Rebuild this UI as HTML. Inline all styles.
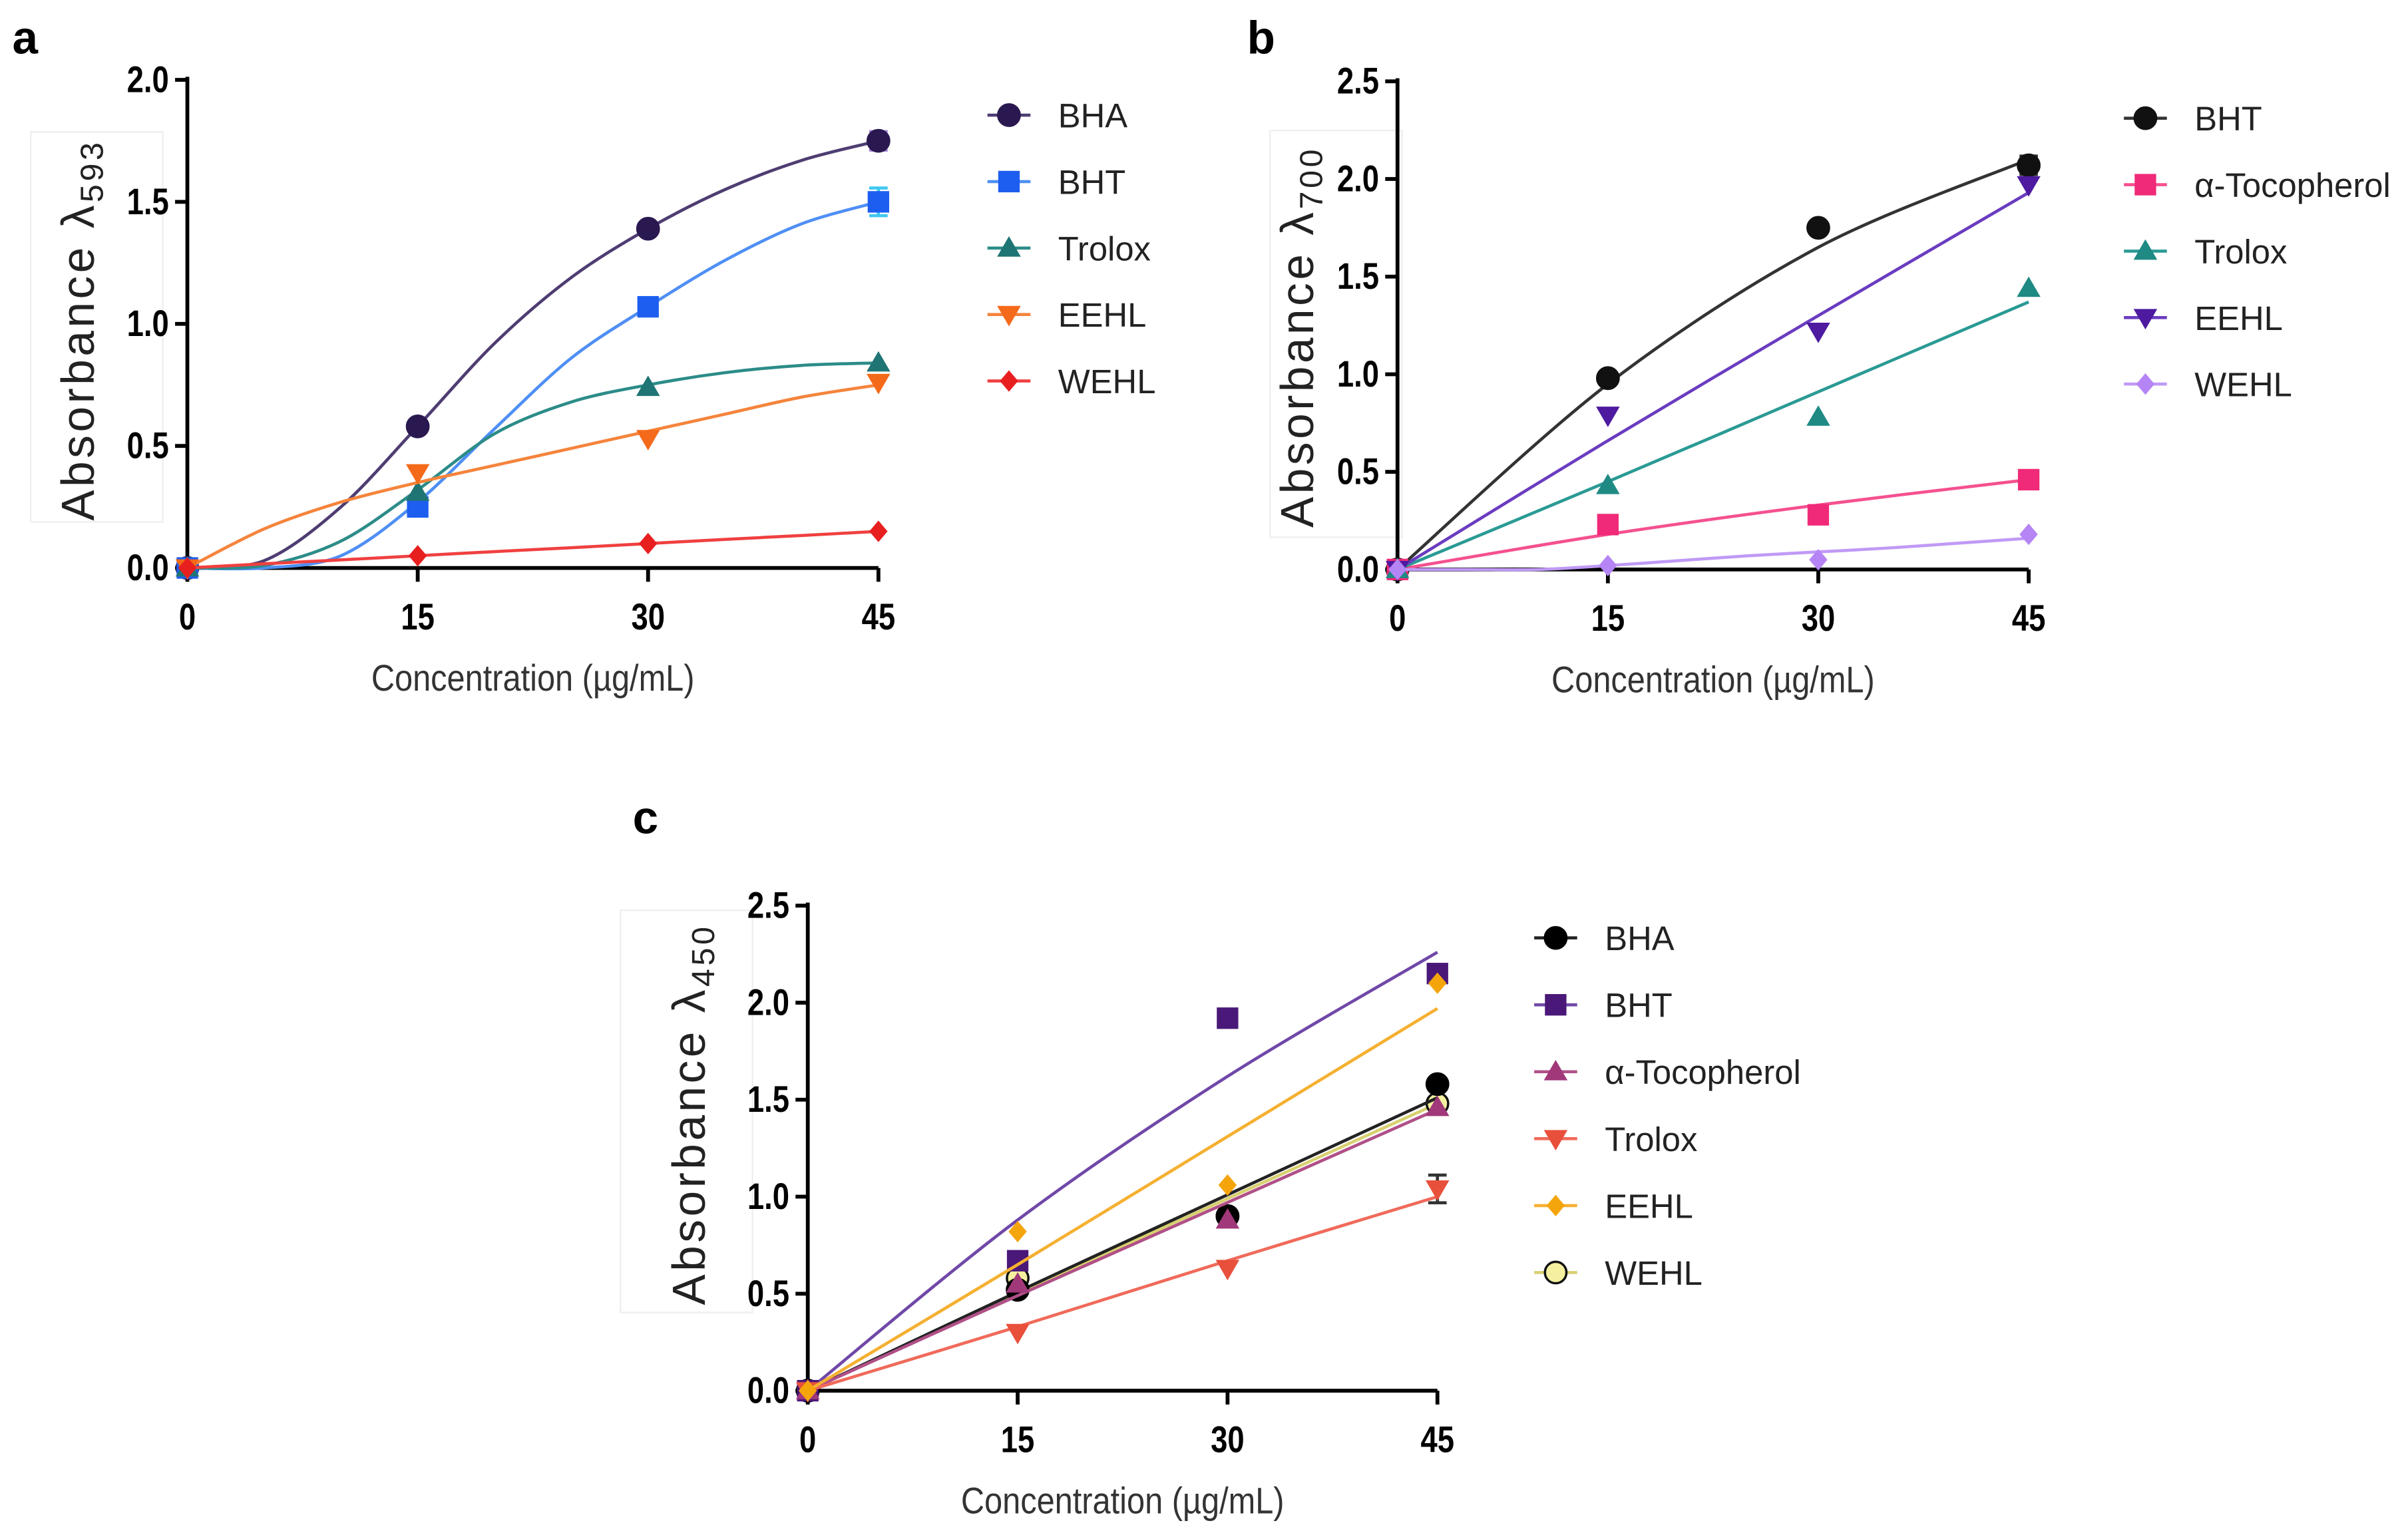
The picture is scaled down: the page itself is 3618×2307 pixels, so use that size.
<!DOCTYPE html>
<html><head><meta charset="utf-8"><style>
html,body{margin:0;padding:0;background:#fff;}
svg{display:block;font-family:"Liberation Sans",sans-serif;}
</style></head><body>
<svg id="fig" width="3618" height="2307" viewBox="0 0 1568 1000" preserveAspectRatio="none" xmlns="http://www.w3.org/2000/svg"></svg>
<script>
const xCats = [0, 15, 30, 45];
const xTickLabels = ["0", "15", "30", "45"];
const fineX = [0, 5, 10, 15, 20, 25, 30, 35, 40, 45];
// Panel a
const aNames = ["BHA", "BHT", "Trolox", "EEHL", "WEHL"];
const aBHA = [0, 0.58, 1.39, 1.75];
const aBHT = [0, 0.25, 1.07, 1.50];
const aTrolox = [0, 0.31, 0.74, 0.84];
const aEEHL = [0, 0.39, 0.53, 0.76];
const aWEHL = [0, 0.05, 0.10, 0.15];
const aFitBHA = [0, 0.03, 0.25, 0.58, 0.92, 1.19, 1.39, 1.55, 1.67, 1.75];
const aFitBHT = [0, 0, 0.05, 0.27, 0.57, 0.86, 1.07, 1.26, 1.41, 1.50];
const aFitTrolox = [0, 0.01, 0.11, 0.32, 0.55, 0.68, 0.75, 0.80, 0.83, 0.84];
const aFitEEHL = [0, 0.16, 0.27, 0.35, 0.42, 0.49, 0.56, 0.63, 0.70, 0.75];
const aFitWEHL = [0, 0.017, 0.033, 0.05, 0.067, 0.083, 0.10, 0.117, 0.133, 0.15];
const aYTicks = ["0.0", "0.5", "1.0", "1.5", "2.0"];
// Panel b
const bNames = ["BHT", "α-Tocopherol", "Trolox", "EEHL", "WEHL"];
const bBHT = [0, 0.98, 1.75, 2.07];
const bToco = [0, 0.23, 0.28, 0.46];
const bTrolox = [0, 0.43, 0.78, 1.44];
const bEEHL = [0, 0.79, 1.22, 1.97];
const bWEHL = [0, 0.02, 0.05, 0.18];
const bFitBHT = [0, 0.95, 1.65, 2.10];
const bFitToco = [0, 0.18, 0.33, 0.46];
const bFitTrolox = [0, 0.45, 0.91, 1.37];
const bFitEEHL = [0, 0.66, 1.30, 1.93];
const bFitWEHL = [0, 0, 0, 0.02, 0.045, 0.07, 0.09, 0.11, 0.135, 0.16];
const bYTicks = ["0.0", "0.5", "1.0", "1.5", "2.0", "2.5"];
// Panel c
const cNames = ["BHA", "BHT", "α-Tocopherol", "Trolox", "EEHL", "WEHL"];
const cBHA = [0, 0.52, 0.90, 1.58];
const cBHT = [0, 0.67, 1.92, 2.15];
const cToco = [0, 0.55, 0.88, 1.46];
const cTrolox = [0, 0.30, 0.63, 1.04];
const cEEHL = [0, 0.82, 1.06, 2.10];
const cWEHL = [0, 0.58, 0.90, 1.48];
const cFitBHA = [0, 0.51, 1.01, 1.51];
const cFitBHT = [0, 0.88, 1.62, 2.26];
const cFitToco = [0, 0.49, 0.97, 1.45];
const cFitTrolox = [0, 0.33, 0.67, 1.00];
const cFitEEHL = [0, 0.65, 1.31, 1.97];
const cFitWEHL = [0, 0.50, 0.99, 1.48];
const cYTicks = ["0.0", "0.5", "1.0", "1.5", "2.0", "2.5"];

const NS = "http://www.w3.org/2000/svg";
const svg = document.getElementById("fig");
function el(tag, attrs, parent, text) {
  const e = document.createElementNS(NS, tag);
  for (const k in attrs) e.setAttribute(k, attrs[k]);
  if (text !== undefined) e.textContent = text;
  (parent || svg).appendChild(e);
  return e;
}
function spline(pts) {
  let d = "M" + pts[0][0] + "," + pts[0][1];
  for (let i = 0; i < pts.length - 1; i++) {
    const p0 = pts[i - 1] || pts[i], p1 = pts[i], p2 = pts[i + 1], p3 = pts[i + 2] || p2;
    const t = 0.16;
    const c1x = p1[0] + (p2[0] - p0[0]) * t, c1y = p1[1] + (p2[1] - p0[1]) * t;
    const c2x = p2[0] - (p3[0] - p1[0]) * t, c2y = p2[1] - (p3[1] - p1[1]) * t;
    d += " C" + c1x + "," + c1y + " " + c2x + "," + c2y + " " + p2[0] + "," + p2[1];
  }
  return d;
}
function marker(g, shape, x, y, fill, stroke, r) {
  let m;
  if (shape === "circle") m = el("circle", {cx: x, cy: y, r: r, fill: fill, stroke: stroke || fill, "stroke-width": 1.5}, g);
  else if (shape === "square") m = el("rect", {x: x - r, y: y - r, width: 2 * r, height: 2 * r, fill: fill}, g);
  else if (shape === "up") m = el("polygon", {points: `${x},${y - r * 1.1} ${x + r * 1.1},${y + r * 0.8} ${x - r * 1.1},${y + r * 0.8}`, fill: fill}, g);
  else if (shape === "down") m = el("polygon", {points: `${x},${y + r * 1.1} ${x + r * 1.1},${y - r * 0.8} ${x - r * 1.1},${y - r * 0.8}`, fill: fill}, g);
  else m = el("polygon", {points: `${x},${y - r} ${x + r * 0.85},${y} ${x},${y + r} ${x - r * 0.85},${y}`, fill: fill}, g);
  return m;
}
function panel(P) {
  const g = el("g", { });
  const sx = v => P.x0 + (v - 0) / 45 * (P.x1 - P.x0);
  const sy = v => P.y0 - v / P.ymax * (P.y0 - P.y1);
  el("text", {x: P.lx, y: P.ly, "font-size": 30, "font-weight": "bold",  }, g, P.letter);
  el("rect", {x: P.bx, y: P.by, width: 86, height: P.bh, fill: "none", stroke: "#eee", "stroke-width": 1,  }, g);
  const yl = el("text", {transform: `translate(${P.lbx},${P.by + P.bh / 2 + 2}) rotate(-90)`, "text-anchor": "middle", "font-size": 30, "letter-spacing": 2, fill: "#222",  }, g);
  el("tspan", {}, yl, "Absorbance λ");
  el("tspan", {"font-size": 21, dy: 6}, yl, P.sub);
  el("line", {x1: P.x0, y1: P.y1 - 2, x2: P.x0, y2: P.y0, stroke: "#000", "stroke-width": 2.5,  }, g);
  el("line", {x1: P.x0, y1: P.y0, x2: P.x1, y2: P.y0, stroke: "#000", "stroke-width": 2.5,  }, g);
  P.yt.forEach((lab, i) => {
    const y = sy(i * 0.5);
    el("line", {x1: P.x0 - 8, y1: y, x2: P.x0, y2: y, stroke: "#000", "stroke-width": 2.5}, g);
    const t = el("text", {x: P.x0 - 12, y: y + 8, "text-anchor": "end", "font-size": 24, "font-weight": "bold", transform: `translate(${P.x0 - 12},0) scale(0.82,1) translate(${-(P.x0 - 12)},0)`}, g, lab);
    
    
  });
  xCats.forEach((c, i) => {
    const x = sx(c);
    el("line", {x1: x, y1: P.y0, x2: x, y2: P.y0 + 9, stroke: "#000", "stroke-width": 2.5}, g);
    const t = el("text", {x: x, y: P.y0 + 40, "text-anchor": "middle", "font-size": 24, "font-weight": "bold", transform: `translate(${x},0) scale(0.82,1) translate(${-x},0)`}, g, xTickLabels[i]);
    
    
  });
  const xt = el("text", {x: (P.x0 + P.x1) / 2, y: P.y0 + 80, "text-anchor": "middle", "font-size": 24, fill: "#333", transform: `translate(${(P.x0 + P.x1) / 2},0) scale(0.88,1) translate(${-(P.x0 + P.x1) / 2},0)`}, g, "Concentration (µg/mL)");
  
  
  P.series.forEach((s, k) => {
    const sg = el("g", {}, g);
    
    
    const fit = s.fit || s.vals;
    const fx = fit.length === fineX.length ? fineX : xCats;
    const pts = fx.map((c, i) => [sx(c), sy(fit[i])]);
    el("path", {d: spline(pts), fill: "none", stroke: s.line, "stroke-width": 2}, sg);
    if (s.err) {
      const x = sx(45), y = sy(s.vals[3]);
      el("path", {d: `M${x - 6},${y - s.err} H${x + 6} M${x},${y - s.err} V${y + s.err} M${x - 6},${y + s.err} H${x + 6}`, stroke: s.errc, "stroke-width": 2, fill: "none"}, sg);
    }
    s.vals.forEach((v, i) => {
      const m = marker(sg, s.shape, sx(xCats[i]), sy(v), s.fill, s.stroke, 7);
      
      
    });
    const li = s.leg !== undefined ? s.leg : k;
    const ly = P.legY + li * P.legDy;
    const lg = el("g", {}, g);
    
    
    el("line", {x1: P.legX - 14, y1: ly, x2: P.legX + 14, y2: ly, stroke: s.line, "stroke-width": 2}, lg);
    marker(lg, s.shape, P.legX, ly, s.fill, s.stroke, 7);
    el("text", {x: P.legX + 32, y: ly + 8, "font-size": 22, fill: "#222"}, lg, s.name);
  });
}
panel({id: "panel-a", letter: "a", lx: 8, ly: 35, x0: 122, x1: 572, y0: 370, y1: 52, ymax: 2.0, yt: aYTicks, sub: "593",
  bx: 20, by: 86, bh: 254, lbx: 61, legX: 657, legY: 75, legDy: 43.3, series: [
  {name: aNames[0], vals: aBHA, fit: aFitBHA, shape: "circle", fill: "#2a1850", line: "#4e3d72", err: 6, errc: "#a080d0"},
  {name: aNames[1], vals: aBHT, fit: aFitBHT, shape: "square", fill: "#1d5ef0", line: "#4f8ff5", err: 9, errc: "#40c8f0"},
  {name: aNames[2], vals: aTrolox, fit: aFitTrolox, shape: "up", fill: "#1f7474", line: "#2c8c88"},
  {name: aNames[3], vals: aEEHL, fit: aFitEEHL, shape: "down", fill: "#f56a1a", line: "#f5843c"},
  {name: aNames[4], vals: aWEHL, fit: aFitWEHL, shape: "diamond", fill: "#e81f1f", line: "#f04040"}]});
panel({id: "panel-b", letter: "b", lx: 812, ly: 35, x0: 910, x1: 1321, y0: 371, y1: 53, ymax: 2.5, yt: bYTicks, sub: "700",
  bx: 827, by: 85, bh: 265, lbx: 855, legX: 1397, legY: 77, legDy: 43.3, series: [
  {name: bNames[0], vals: bBHT, fit: bFitBHT, shape: "circle", fill: "#111", line: "#333", err: 6, errc: "#333"},
  {name: bNames[1], vals: bToco, fit: bFitToco, shape: "square", fill: "#f02a78", line: "#f55090"},
  {name: bNames[2], vals: bTrolox, fit: bFitTrolox, shape: "up", fill: "#1f8a84", line: "#2a9a94"},
  {name: bNames[3], vals: bEEHL, fit: bFitEEHL, shape: "down", fill: "#4d1aa0", line: "#6a3cc0"},
  {name: bNames[4], vals: bWEHL, fit: bFitWEHL, shape: "diamond", fill: "#b584f5", line: "#c09af5"}]});
panel({id: "panel-c", letter: "c", lx: 412, ly: 543, x0: 526, x1: 936, y0: 906, y1: 590, ymax: 2.5, yt: cYTicks, sub: "450",
  bx: 404, by: 593, bh: 262, lbx: 459, legX: 1013, legY: 611, legDy: 43.6, series: [
  {name: cNames[5], leg: 5, vals: cWEHL, fit: cFitWEHL, shape: "circle", fill: "#f5f0a0", stroke: "#111", line: "#d8d070"},
  {name: cNames[0], leg: 0, vals: cBHA, fit: cFitBHA, shape: "circle", fill: "#000", line: "#222"},
  {name: cNames[1], leg: 1, vals: cBHT, fit: cFitBHT, shape: "square", fill: "#4a1878", line: "#7048a8"},
  {name: cNames[2], leg: 2, vals: cToco, fit: cFitToco, shape: "up", fill: "#a0387a", line: "#b05088"},
  {name: cNames[3], leg: 3, vals: cTrolox, fit: cFitTrolox, shape: "down", fill: "#e8503c", line: "#f06a5a", err: 9, errc: "#333"},
  {name: cNames[4], leg: 4, vals: cEEHL, fit: cFitEEHL, shape: "diamond", fill: "#f5a50c", line: "#f5b030"}]});
</script>
</body></html>
